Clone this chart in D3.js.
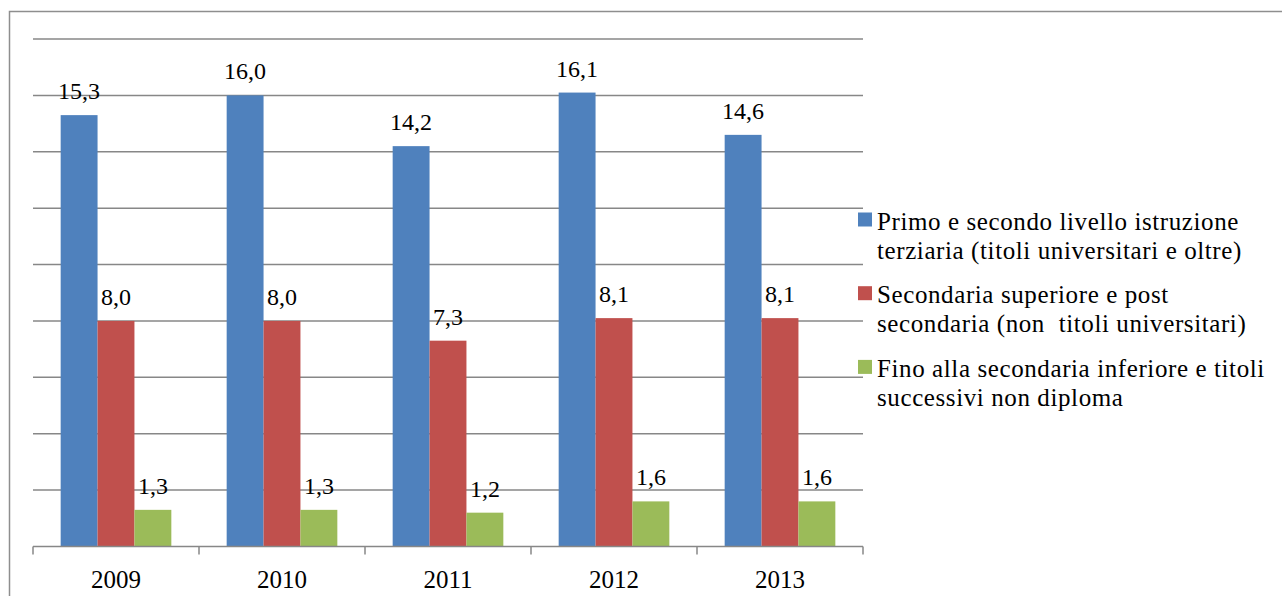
<!DOCTYPE html>
<html>
<head>
<meta charset="utf-8">
<script src="https://cdn.jsdelivr.net/npm/d3@7"></script>
<style>
  html, body { margin: 0; padding: 0; background: #fff; }
  svg { display: block; font-family: "Liberation Serif", "Times New Roman", serif; }
  text { white-space: pre; }
</style>
</head>
<body>
<svg id="chart" width="1282" height="596"></svg>
<script>
// Anni
const categories = ["2009", "2010", "2011", "2012", "2013"];

// Serie per livello di istruzione
const seriesNames = [
  "Primo e secondo livello istruzione terziaria (titoli universitari e oltre)",
  "Secondaria superiore e post secondaria (non  titoli universitari)",
  "Fino alla secondaria inferiore e titoli successivi non diploma"
];
const legendLines = [
  ["Primo e secondo livello istruzione", "terziaria (titoli universitari e oltre)"],
  ["Secondaria superiore e post", "secondaria (non  titoli universitari)"],
  ["Fino alla secondaria inferiore e titoli", "successivi non diploma"]
];
const terziaria   = [15.3, 16.0, 14.2, 16.1, 14.6];
const secondaria  = [8.0, 8.0, 7.3, 8.1, 8.1];
const inferiore   = [1.3, 1.3, 1.2, 1.6, 1.6];
const seriesValues = [terziaria, secondaria, inferiore];
const colors = ["#4F81BD", "#C0504D", "#9BBB59"];
const yTicks = [0, 2, 4, 6, 8, 10, 12, 14, 16, 18];

const fmt = v => v.toFixed(1).replace(".", ",");

const svg = d3.select("#chart");

// cornice esterna (solo lati superiore e sinistro visibili)
svg.append("path")
  .attr("d", "M9.5,600 V11.5 H1290")
  .attr("fill", "none")
  .attr("stroke", "#8E8E8E")
  .attr("stroke-width", 1.5);

const plot = { left: 33, right: 863, top: 39, bottom: 546.5 };

const x0 = d3.scaleBand().domain(categories).range([plot.left, plot.right]).padding(0);
const bw = x0.bandwidth();
const gapHalf = bw / 4.5 * 0.75;
const x1 = d3.scaleBand().domain(d3.range(3)).range([gapHalf, bw - gapHalf]).padding(0);
const y = d3.scaleLinear().domain([0, 18]).range([plot.bottom, plot.top]);

// griglia orizzontale
svg.append("g")
  .selectAll("line")
  .data(yTicks.filter(t => t > 0))
  .join("line")
  .attr("x1", plot.left).attr("x2", plot.right)
  .attr("y1", d => y(d)).attr("y2", d => y(d))
  .attr("stroke", "#878787")
  .attr("stroke-width", 1.5);

// barre
const groups = svg.append("g")
  .selectAll("g")
  .data(categories)
  .join("g")
  .attr("transform", d => `translate(${x0(d)},0)`);

groups.selectAll("rect")
  .data((d, i) => seriesValues.map((vals, s) => ({ s, v: vals[i] })))
  .join("rect")
  .attr("x", d => x1(d.s))
  .attr("width", x1.bandwidth())
  .attr("y", d => y(d.v))
  .attr("height", d => y(0) - y(d.v))
  .attr("fill", d => colors[d.s]);

// etichette dei valori
groups.selectAll("text.val")
  .data((d, i) => seriesValues.map((vals, s) => ({ s, v: vals[i] })))
  .join("text")
  .attr("class", "val")
  .attr("x", d => x1(d.s) + x1.bandwidth() / 2)
  .attr("y", d => y(d.v) - 16)
  .attr("text-anchor", "middle")
  .attr("font-size", 24)
  .attr("fill", "#000")
  .text(d => fmt(d.v));

// asse x
const gx = svg.append("g").attr("transform", `translate(0,${plot.bottom})`);
gx.append("line")
  .attr("x1", plot.left).attr("x2", plot.right)
  .attr("stroke", "#878787").attr("stroke-width", 1.5);
gx.selectAll("line.tick")
  .data(d3.range(categories.length + 1))
  .join("line")
  .attr("class", "tick")
  .attr("x1", i => plot.left + i * bw).attr("x2", i => plot.left + i * bw)
  .attr("y1", 0).attr("y2", 8)
  .attr("stroke", "#878787").attr("stroke-width", 1.5);
gx.selectAll("text.cat")
  .data(categories)
  .join("text")
  .attr("class", "cat")
  .attr("x", d => x0(d) + bw / 2)
  .attr("y", 41)
  .attr("text-anchor", "middle")
  .attr("font-size", 25)
  .attr("fill", "#000")
  .text(d => d);

// legenda
const legend = svg.append("g");
const legendItems = legend.selectAll("g")
  .data(seriesNames)
  .join("g")
  .attr("transform", (d, i) => `translate(858,${229.5 + i * 73.7})`);
legendItems.append("rect")
  .attr("x", 0).attr("y", -17)
  .attr("width", 14).attr("height", 14)
  .attr("fill", (d, i) => colors[i]);
legendItems.append("text")
  .attr("font-size", 25)
  .attr("letter-spacing", 0.6)
  .attr("fill", "#000")
  .selectAll("tspan")
  .data((d, i) => legendLines[i])
  .join("tspan")
  .attr("x", 19)
  .attr("y", (d, j) => j * 29)
  .text(d => d);
</script>
</body>
</html>
